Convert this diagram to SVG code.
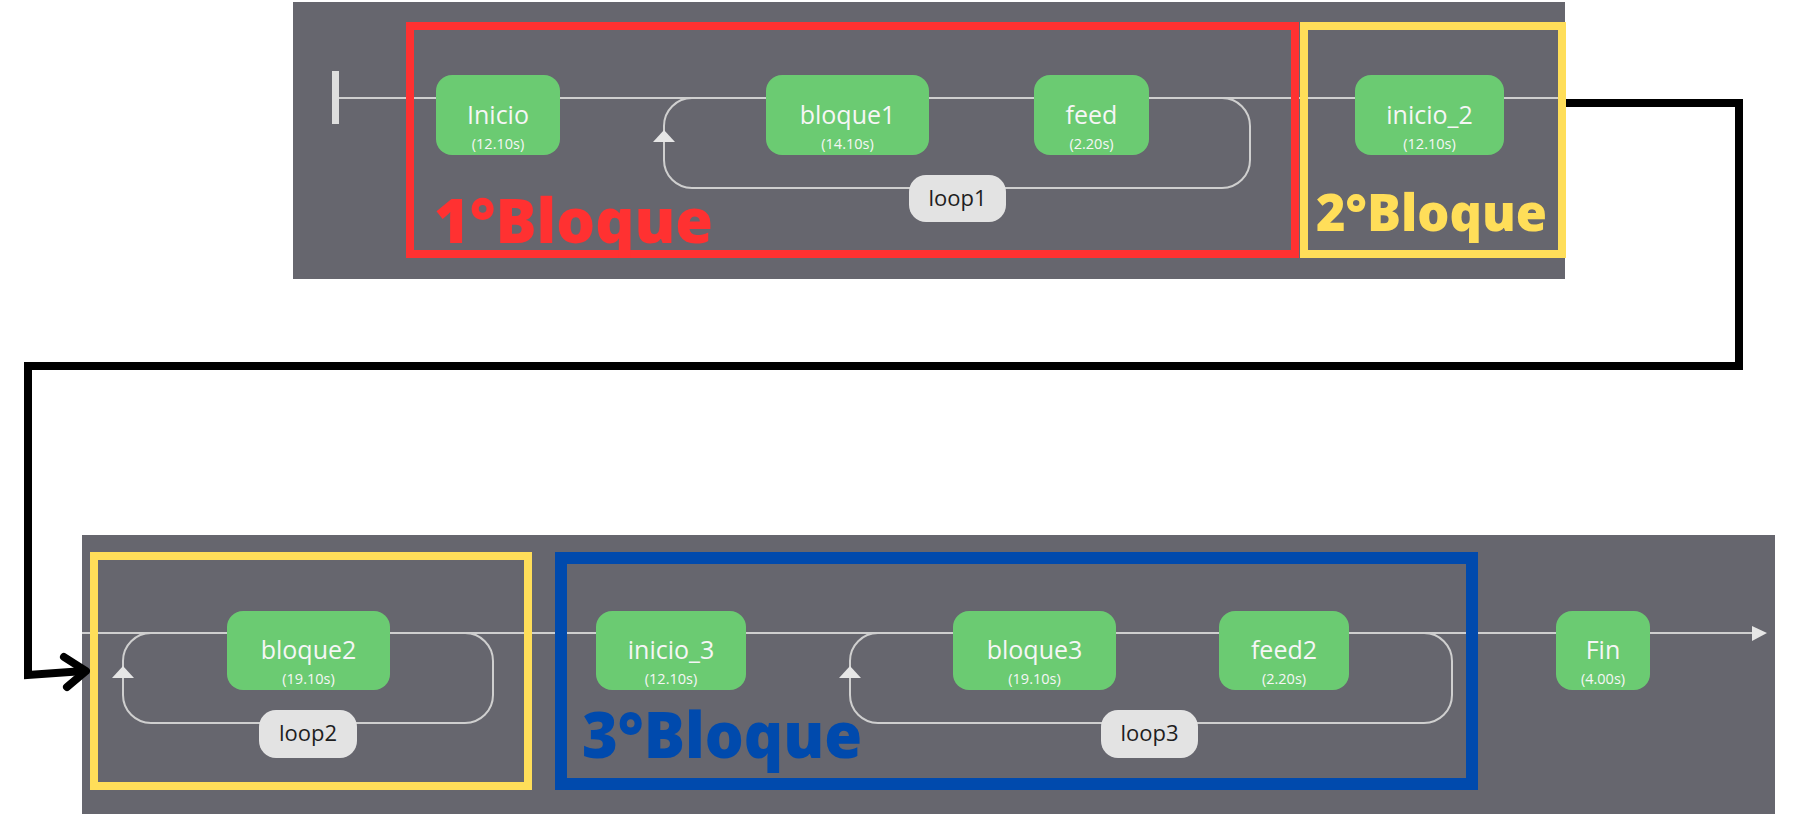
<svg xmlns="http://www.w3.org/2000/svg" width="1795" height="817" viewBox="0 0 1795 817">
<defs>
<style>
.panel{fill:#66666e}
.node rect{fill:#6bcb72}
.nt{font-family:"Open Sans","Liberation Sans",sans-serif;font-size:25px;fill:#f6f6f6;text-anchor:middle}
.ns{font-family:"Open Sans","Liberation Sans",sans-serif;font-size:14.5px;fill:#f6f6f6;text-anchor:middle}
.gl{fill:none;stroke:#cfcfcf;stroke-width:2}
.ga{fill:#e6e6e6}
.lbl rect{fill:#e3e3e3}
.lt{font-family:"Open Sans","Liberation Sans",sans-serif;font-size:22px;fill:#1e1e1e;text-anchor:middle}
.bt{font-family:"Open Sans","Liberation Sans",sans-serif;font-weight:800}
</style>
</defs>
<rect width="1795" height="817" fill="#ffffff"/>
<rect class="panel" x="293" y="2" width="1272" height="277"/>
<rect class="panel" x="82" y="535" width="1693" height="279"/>

<g id="connectors">
<line class="gl" x1="336" y1="98" x2="1563" y2="98"/>
<rect x="332" y="71" width="7" height="53" fill="#dedede"/>
<path class="gl" d="M692 98 A28 28 0 0 0 664 126 L664 160 A28 28 0 0 0 692 188 L1222 188 A28 28 0 0 0 1250 160 L1250 126 A28 28 0 0 0 1222 98"/>
<polygon class="ga" points="664,130 653,142 675,142"/>
<line class="gl" x1="82" y1="633" x2="1754" y2="633"/>
<polygon class="ga" points="1767,633 1752,626 1752,641"/>
<path class="gl" d="M151 633 A28 28 0 0 0 123 661 L123 695 A28 28 0 0 0 151 723 L465 723 A28 28 0 0 0 493 695 L493 661 A28 28 0 0 0 465 633"/>
<polygon class="ga" points="123,666 112,678 134,678"/>
<path class="gl" d="M878 633 A28 28 0 0 0 850 661 L850 695 A28 28 0 0 0 878 723 L1424 723 A28 28 0 0 0 1452 695 L1452 661 A28 28 0 0 0 1424 633"/>
<polygon class="ga" points="850,666 839,678 861,678"/>
<path d="M1565 103 L1739 103 L1739 366 L28 366 L28 675 L84 671" fill="none" stroke="#000" stroke-width="8"/>
<path d="M64 657 L86 671 L67 687" fill="none" stroke="#000" stroke-width="8" stroke-linecap="round" stroke-linejoin="round"/>
</g>

<g id="node-inicio" class="node"><rect x="436" y="75" width="124" height="80" rx="16"/><text class="nt" x="498" y="124">Inicio</text><text class="ns" x="498" y="149">(12.10s)</text></g>
<g id="node-bloque1" class="node"><rect x="766" y="75" width="163" height="80" rx="16"/><text class="nt" x="847.5" y="124">bloque1</text><text class="ns" x="847.5" y="149">(14.10s)</text></g>
<g id="node-feed" class="node"><rect x="1034" y="75" width="115" height="80" rx="16"/><text class="nt" x="1091.5" y="124">feed</text><text class="ns" x="1091.5" y="149">(2.20s)</text></g>
<g id="node-inicio2" class="node"><rect x="1355" y="75" width="149" height="80" rx="16"/><text class="nt" x="1429.5" y="124">inicio_2</text><text class="ns" x="1429.5" y="149">(12.10s)</text></g>
<g id="label-loop1" class="lbl"><rect x="909" y="175" width="97" height="47" rx="17"/><text class="lt" x="957.5" y="206">loop1</text></g>

<g id="node-bloque2" class="node"><rect x="227" y="611" width="163" height="79" rx="16"/><text class="nt" x="308.5" y="659">bloque2</text><text class="ns" x="308.5" y="684">(19.10s)</text></g>
<g id="label-loop2" class="lbl"><rect x="259" y="710" width="98" height="48" rx="17"/><text class="lt" x="308" y="741">loop2</text></g>
<g id="node-inicio3" class="node"><rect x="596" y="611" width="150" height="79" rx="16"/><text class="nt" x="671" y="659">inicio_3</text><text class="ns" x="671" y="684">(12.10s)</text></g>
<g id="node-bloque3" class="node"><rect x="953" y="611" width="163" height="79" rx="16"/><text class="nt" x="1034.5" y="659">bloque3</text><text class="ns" x="1034.5" y="684">(19.10s)</text></g>
<g id="node-feed2" class="node"><rect x="1219" y="611" width="130" height="79" rx="16"/><text class="nt" x="1284" y="659">feed2</text><text class="ns" x="1284" y="684">(2.20s)</text></g>
<g id="label-loop3" class="lbl"><rect x="1101" y="710" width="97" height="48" rx="17"/><text class="lt" x="1149.5" y="741">loop3</text></g>
<g id="node-fin" class="node"><rect x="1556" y="611" width="94" height="79" rx="16"/><text class="nt" x="1603" y="659">Fin</text><text class="ns" x="1603" y="684">(4.00s)</text></g>

<g id="block1">
<rect x="410" y="26" width="885" height="228" fill="none" stroke="#ff3131" stroke-width="8"/>
<text class="bt" x="434" y="243" font-size="62" fill="#ff3131" textLength="279" lengthAdjust="spacingAndGlyphs">1°Bloque</text>
</g>
<g id="block2-top">
<rect x="1304" y="26" width="258" height="228" fill="none" stroke="#ffde59" stroke-width="8"/>
<text class="bt" x="1316" y="231" font-size="52" fill="#ffde59" textLength="231" lengthAdjust="spacingAndGlyphs">2°Bloque</text>
</g>
<g id="block2-bottom">
<rect x="94" y="556" width="434" height="230" fill="none" stroke="#ffde59" stroke-width="8"/>
</g>
<g id="block3">
<rect x="561" y="558" width="911" height="226" fill="none" stroke="#004aad" stroke-width="12"/>
<text class="bt" x="582" y="758" font-size="64" fill="#004aad" textLength="280" lengthAdjust="spacingAndGlyphs">3°Bloque</text>
</g>
</svg>
